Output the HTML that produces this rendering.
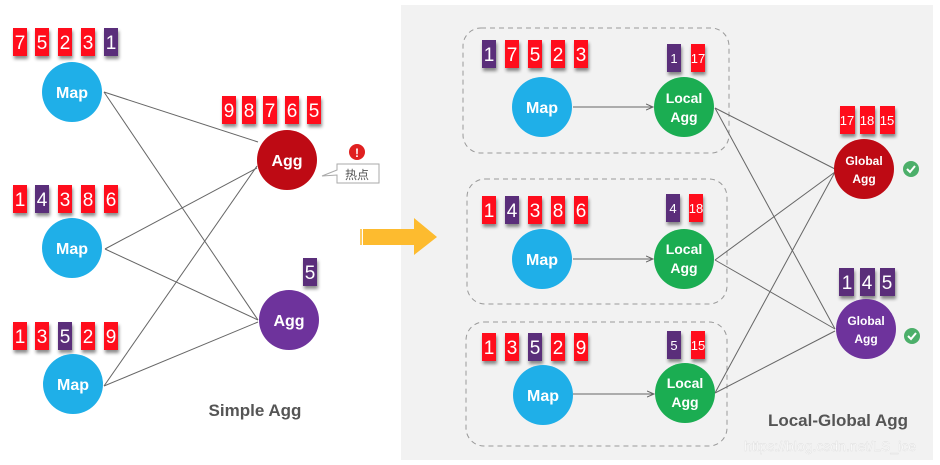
<!DOCTYPE html>
<html><head><meta charset="utf-8"><style>
html,body{margin:0;padding:0;background:#fff;}
svg{display:block;font-family:"Liberation Sans","Noto Sans CJK SC",sans-serif;}
.n{fill:#fff;font-size:19px;text-anchor:middle;}
.s{fill:#fff;font-size:13px;text-anchor:middle;}
.c{fill:#fff;font-size:16px;font-weight:bold;text-anchor:middle;}
.c2{fill:#fff;font-size:14px;font-weight:bold;text-anchor:middle;}
.l{stroke:#666;stroke-width:1;fill:none;}
</style></head><body>
<svg width="940" height="465" viewBox="0 0 940 465" xmlns="http://www.w3.org/2000/svg">
<defs>
<filter id="sh" x="-50%" y="-50%" width="200%" height="200%"><feDropShadow dx="1" dy="3" stdDeviation="1.5" flood-color="#000" flood-opacity="0.45"/></filter>
<marker id="ar" markerWidth="8" markerHeight="8" refX="7" refY="4" orient="auto"><path d="M0,1 L7,4 L0,7" fill="none" stroke="#666"/></marker>
</defs>
<rect x="401" y="5" width="532" height="455" fill="#f2f2f2"/>
<g class="l">
<line x1="104" y1="92" x2="258" y2="142"/>
<line x1="104" y1="92" x2="258" y2="320"/>
<line x1="105" y1="249" x2="257" y2="168"/>
<line x1="105" y1="249" x2="258" y2="320"/>
<line x1="104" y1="386" x2="257" y2="166"/>
<line x1="104" y1="386" x2="258" y2="322"/>
</g>
<g filter="url(#sh)">
<rect x="13" y="28" width="14" height="28" fill="#ff0a1e"/><rect x="35" y="28" width="14" height="28" fill="#ff0a1e"/><rect x="58" y="28" width="14" height="28" fill="#ff0a1e"/><rect x="81" y="28" width="14" height="28" fill="#ff0a1e"/><rect x="104" y="28" width="14" height="28" fill="#5a2f7a"/>
<rect x="13" y="185" width="14" height="28" fill="#ff0a1e"/><rect x="35" y="185" width="14" height="28" fill="#5a2f7a"/><rect x="58" y="185" width="14" height="28" fill="#ff0a1e"/><rect x="81" y="185" width="14" height="28" fill="#ff0a1e"/><rect x="104" y="185" width="14" height="28" fill="#ff0a1e"/>
<rect x="13" y="322" width="14" height="28" fill="#ff0a1e"/><rect x="35" y="322" width="14" height="28" fill="#ff0a1e"/><rect x="58" y="322" width="14" height="28" fill="#5a2f7a"/><rect x="81" y="322" width="14" height="28" fill="#ff0a1e"/><rect x="104" y="322" width="14" height="28" fill="#ff0a1e"/>
<rect x="222" y="96" width="14" height="28" fill="#ff0a1e"/><rect x="242" y="96" width="14" height="28" fill="#ff0a1e"/><rect x="263" y="96" width="14" height="28" fill="#ff0a1e"/><rect x="285" y="96" width="14" height="28" fill="#ff0a1e"/><rect x="307" y="96" width="14" height="28" fill="#ff0a1e"/>
<rect x="303" y="258" width="14" height="28" fill="#5a2f7a"/>
<rect x="482" y="40" width="14" height="28" fill="#5a2f7a"/><rect x="505" y="40" width="14" height="28" fill="#ff0a1e"/><rect x="528" y="40" width="14" height="28" fill="#ff0a1e"/><rect x="551" y="40" width="14" height="28" fill="#ff0a1e"/><rect x="574" y="40" width="14" height="28" fill="#ff0a1e"/>
<rect x="482" y="196" width="14" height="28" fill="#ff0a1e"/><rect x="505" y="196" width="14" height="28" fill="#5a2f7a"/><rect x="528" y="196" width="14" height="28" fill="#ff0a1e"/><rect x="551" y="196" width="14" height="28" fill="#ff0a1e"/><rect x="574" y="196" width="14" height="28" fill="#ff0a1e"/>
<rect x="482" y="333" width="14" height="28" fill="#ff0a1e"/><rect x="505" y="333" width="14" height="28" fill="#ff0a1e"/><rect x="528" y="333" width="14" height="28" fill="#5a2f7a"/><rect x="551" y="333" width="14" height="28" fill="#ff0a1e"/><rect x="574" y="333" width="14" height="28" fill="#ff0a1e"/>
<rect x="667" y="44" width="14" height="28" fill="#5a2f7a"/><rect x="691" y="44" width="14" height="28" fill="#ff0a1e"/>
<rect x="666" y="194" width="14" height="28" fill="#5a2f7a"/><rect x="689" y="194" width="14" height="28" fill="#ff0a1e"/>
<rect x="667" y="331" width="14" height="28" fill="#5a2f7a"/><rect x="691" y="331" width="14" height="28" fill="#ff0a1e"/>
<rect x="840" y="106" width="15" height="28" fill="#ff0a1e"/><rect x="860" y="106" width="15" height="28" fill="#ff0a1e"/><rect x="880" y="106" width="15" height="28" fill="#ff0a1e"/>
<rect x="839" y="268" width="15" height="28" fill="#5a2f7a"/><rect x="860" y="268" width="15" height="28" fill="#5a2f7a"/><rect x="880" y="268" width="15" height="28" fill="#5a2f7a"/>
</g>
<g class="n">
<text x="20" y="49">7</text><text x="42" y="49">5</text><text x="65" y="49">2</text><text x="88" y="49">3</text><text x="111" y="49">1</text>
<text x="20" y="206">1</text><text x="42" y="206">4</text><text x="65" y="206">3</text><text x="88" y="206">8</text><text x="111" y="206">6</text>
<text x="20" y="343">1</text><text x="42" y="343">3</text><text x="65" y="343">5</text><text x="88" y="343">2</text><text x="111" y="343">9</text>
<text x="229" y="117">9</text><text x="249" y="117">8</text><text x="270" y="117">7</text><text x="292" y="117">6</text><text x="314" y="117">5</text>
<text x="310" y="279">5</text>
<text x="489" y="61">1</text><text x="512" y="61">7</text><text x="535" y="61">5</text><text x="558" y="61">2</text><text x="581" y="61">3</text>
<text x="489" y="217">1</text><text x="512" y="217">4</text><text x="535" y="217">3</text><text x="558" y="217">8</text><text x="581" y="217">6</text>
<text x="489" y="354">1</text><text x="512" y="354">3</text><text x="535" y="354">5</text><text x="558" y="354">2</text><text x="581" y="354">9</text>
<text x="847" y="289">1</text><text x="867" y="289">4</text><text x="887" y="289">5</text>
</g>
<g class="s">
<text x="674" y="63">1</text><text x="698" y="63">17</text>
<text x="673" y="213">4</text><text x="696" y="213">18</text>
<text x="674" y="350">5</text><text x="698" y="350">15</text>
<text x="847" y="125">17</text><text x="867" y="125">18</text><text x="887" y="125">15</text>
</g>
<circle cx="72" cy="92" r="30" fill="#1fafe8"/><text class="c" x="72" y="98">Map</text>
<circle cx="72" cy="248" r="30" fill="#1fafe8"/><text class="c" x="72" y="254">Map</text>
<circle cx="73" cy="384" r="30" fill="#1fafe8"/><text class="c" x="73" y="390">Map</text>
<circle cx="287" cy="160" r="30" fill="#be0a14"/><text class="c" x="287" y="166">Agg</text>
<circle cx="289" cy="320" r="30" fill="#6e339c"/><text class="c" x="289" y="326">Agg</text>
<circle cx="357" cy="152" r="8" fill="#e02020"/><text x="357" y="157" fill="#fff" font-size="12" font-weight="bold" text-anchor="middle">!</text>
<path d="M337,164 H379 V183 H337 V175 L322,176 L337,170 Z" fill="#fff" stroke="#aaa"/>
<text x="357" y="179" font-size="12" fill="#555" text-anchor="middle">热点</text>
<text x="255" y="416" font-size="17" font-weight="bold" fill="#555" text-anchor="middle">Simple Agg</text>
<path d="M363,229 H414 V218 L437,237 L414,255 V245 H363 Z" fill="#fdbb2f"/>
<line x1="361" y1="229" x2="361" y2="245" stroke="#fdbb2f" stroke-width="1.5"/>
<g fill="none" stroke="#999" stroke-dasharray="5,4">
<rect x="463" y="28" width="266" height="125" rx="18"/>
<rect x="467" y="179" width="260" height="125" rx="18"/>
<rect x="466" y="322" width="261" height="124" rx="18"/>
</g>
<g class="l">
<line x1="573" y1="107" x2="653" y2="107" marker-end="url(#ar)"/>
<line x1="573" y1="259" x2="653" y2="259" marker-end="url(#ar)"/>
<line x1="573" y1="394" x2="654" y2="394" marker-end="url(#ar)"/>
<line x1="715" y1="108" x2="835" y2="169"/>
<line x1="715" y1="108" x2="835" y2="329"/>
<line x1="715" y1="260" x2="835" y2="172"/>
<line x1="715" y1="260" x2="835" y2="329"/>
<line x1="715" y1="393" x2="835" y2="172"/>
<line x1="715" y1="393" x2="835" y2="331"/>
</g>
<circle cx="542" cy="107" r="30" fill="#1fafe8"/><text class="c" x="542" y="113">Map</text>
<circle cx="542" cy="259" r="30" fill="#1fafe8"/><text class="c" x="542" y="265">Map</text>
<circle cx="543" cy="395" r="30" fill="#1fafe8"/><text class="c" x="543" y="401">Map</text>
<g fill="#1bad52"><circle cx="684" cy="107" r="30"/><circle cx="684" cy="259" r="30"/><circle cx="685" cy="393" r="30"/></g>
<g class="c2">
<text x="684" y="103">Local</text><text x="684" y="122">Agg</text>
<text x="684" y="254">Local</text><text x="684" y="273">Agg</text>
<text x="685" y="388">Local</text><text x="685" y="407">Agg</text>
</g>
<circle cx="864" cy="169" r="30" fill="#be0a14"/>
<circle cx="866" cy="329" r="30" fill="#6e339c"/>
<g class="c2" style="font-size:12px">
<text x="864" y="165">Global</text><text x="864" y="183">Agg</text>
<text x="866" y="325">Global</text><text x="866" y="343">Agg</text>
</g>
<circle cx="911" cy="169" r="8" fill="#4caf6a"/><path d="M907,169 l3,3 l5,-6" stroke="#fff" stroke-width="2" fill="none"/>
<circle cx="912" cy="336" r="8" fill="#4caf6a"/><path d="M908,336 l3,3 l5,-6" stroke="#fff" stroke-width="2" fill="none"/>
<text x="838" y="426" font-size="17" font-weight="bold" fill="#555" text-anchor="middle">Local-Global Agg</text>
<text x="830" y="451" font-size="14" fill="#fff" fill-opacity="0.85" text-anchor="middle" stroke="#ddd" stroke-width="0.4">https://blog.csdn.net/LS_ice</text>
</svg>
</body></html>
